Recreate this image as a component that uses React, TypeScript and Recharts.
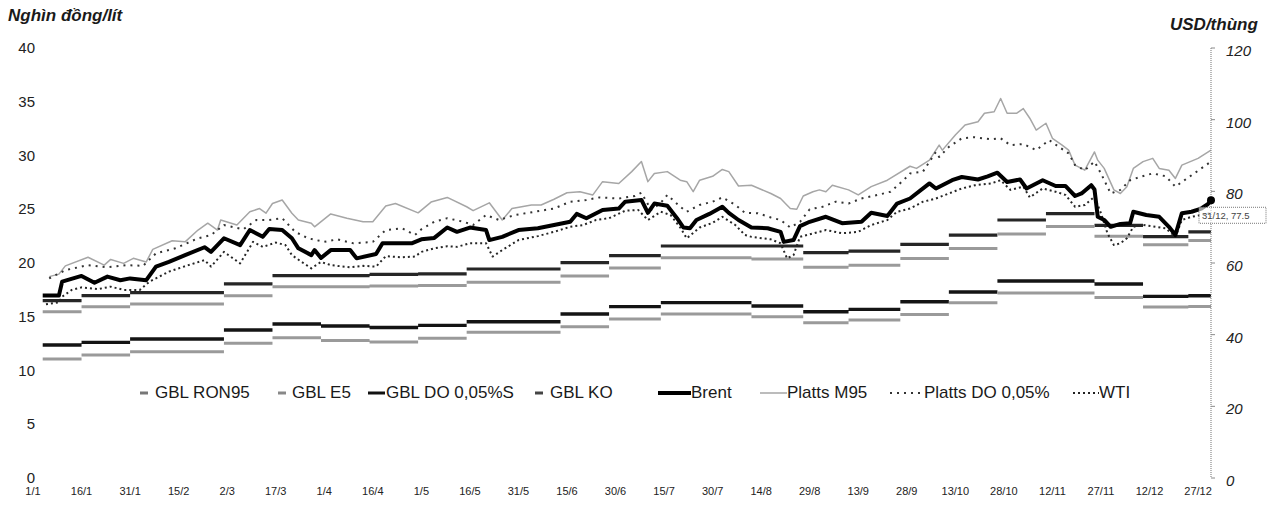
import React from 'react';
import { LineChart, Line, XAxis, YAxis, Legend, ReferenceDot } from 'recharts';

const FONT = '"Liberation Sans", Arial, sans-serif';

// X axis: day of year (0 = 1/1)
const tickDays = [0, 15, 30, 45, 60, 75, 90, 105, 120, 135, 150, 165, 180, 195, 210, 225, 240, 255, 270, 285, 300, 315, 330, 345, 360];
const dateLabels = ['1/1', '16/1', '31/1', '15/2', '2/3', '17/3', '1/4', '16/4', '1/5', '16/5', '31/5', '15/6', '30/6', '15/7', '30/7', '14/8', '29/8', '13/9', '28/9', '13/10', '28/10', '12/11', '27/11', '12/12', '27/12'];
const leftTicks = [0, 5, 10, 15, 20, 25, 30, 35, 40];
const rightTicks = [0, 20, 40, 60, 80, 100, 120];

// Retail price adjustment days (start of each price period) and last day
const stepDays = [3, 15, 30, 59, 74, 89, 104, 119, 134, 163, 178, 194, 222, 238, 252, 268, 283, 298, 313, 328, 343, 357, 364];
// Retail prices, thousand VND / litre (one value per period)
const gblRon95 = [16.5, 16.96, 17.24, 18.05, 18.82, 18.82, 18.95, 18.98, 19.44, 20.03, 20.68, 21.58, 21.58, 20.96, 21.1, 21.74, 22.6, 24.0, 24.6, 23.5, 22.45, 22.9];
const gblE5 = [15.47, 15.94, 16.19, 16.96, 17.8, 17.8, 17.85, 17.9, 18.2, 18.79, 19.53, 20.5, 20.38, 19.6, 19.8, 20.43, 21.36, 22.7, 23.4, 22.5, 21.7, 22.1];
const gblDo = [12.37, 12.62, 12.93, 13.77, 14.33, 14.14, 14.0, 14.2, 14.54, 15.26, 15.94, 16.31, 16.0, 15.47, 15.69, 16.4, 17.3, 18.33, 18.33, 18.05, 16.9, 16.95];
const gblKo = [11.07, 11.44, 11.75, 12.53, 13.05, 12.8, 12.65, 13.0, 13.55, 14.08, 14.79, 15.26, 15.0, 14.45, 14.7, 15.2, 16.3, 17.2, 17.2, 16.8, 15.9, 15.95];

// World prices, USD / barrel : [day, value]
const brent: [number, number][] = [
  [3, 50.9], [8, 50.9], [9, 54.8], [15, 56.4], [19, 54.5], [23, 56.2], [27, 55.2], [30, 55.7], [35, 55.2], [38, 59.0],
  [42, 60.3], [47, 62.2], [53, 64.4], [55, 63.1], [59, 66.9], [64, 65.0], [67, 69.2], [71, 67.3], [73, 69.5], [77, 69.2],
  [80, 66.9], [82, 64.1], [86, 62.2], [87, 63.6], [89, 61.4], [92, 63.6], [98, 63.6], [100, 61.3], [106, 62.5], [108, 65.5],
  [113, 65.5], [117, 65.5], [120, 66.6], [124, 67.0], [128, 69.9], [131, 68.7], [135, 69.9], [140, 69.2], [141, 66.4], [145, 67.3],
  [150, 69.2], [156, 69.7], [161, 70.6], [166, 71.5], [168, 73.7], [171, 72.5], [176, 74.8], [181, 75.2], [183, 77.1], [188, 77.6],
  [190, 74.0], [192, 76.6], [196, 76.0], [199, 72.5], [201, 69.9], [203, 69.7], [205, 72.0], [209, 73.7], [213, 75.7], [215, 74.0],
  [218, 72.0], [222, 69.9], [227, 69.7], [231, 68.7], [232, 65.9], [235, 66.4], [237, 70.3], [240, 71.5], [245, 72.9], [250, 71.1],
  [256, 71.5], [259, 74.0], [264, 73.1], [267, 76.6], [271, 78.0], [277, 82.2], [279, 80.8], [284, 83.1], [287, 84.0], [292, 83.3],
  [295, 84.2], [298, 85.2], [301, 82.6], [305, 83.3], [307, 80.8], [312, 83.1], [316, 81.5], [319, 81.5], [322, 78.7], [324, 79.4],
  [327, 81.7], [328, 80.5], [329, 72.9], [331, 72.0], [333, 70.1], [336, 70.9], [339, 71.1], [340, 74.3], [344, 73.4], [348, 72.9],
  [351, 70.1], [353, 67.8], [355, 73.9], [358, 74.3], [361, 75.2], [363, 76.4], [364, 77.5],
];
const plattsM95: [number, number][] = [
  [5, 56.2], [8, 56.9], [10, 59.2], [17, 61.6], [22, 59.4], [24, 61.0], [28, 59.9], [31, 61.3], [35, 60.3], [37, 63.8],
  [43, 66.2], [47, 65.9], [51, 69.2], [54, 71.1], [57, 69.2], [58, 72.0], [63, 70.6], [67, 74.3], [70, 75.2], [72, 73.9],
  [74, 76.6], [77, 77.6], [80, 73.9], [82, 72.0], [86, 71.1], [87, 70.1], [92, 73.7], [97, 72.5], [102, 71.5], [105, 71.5],
  [109, 75.9], [112, 76.6], [119, 74.0], [123, 77.0], [128, 78.3], [134, 75.7], [136, 74.6], [141, 76.8], [145, 72.0], [148, 75.2],
  [154, 76.2], [157, 76.2], [161, 77.8], [165, 79.6], [169, 79.9], [173, 79.0], [176, 82.7], [181, 82.2], [185, 85.5], [188, 88.3],
  [190, 82.7], [192, 85.0], [196, 85.5], [200, 83.1], [202, 82.7], [204, 79.9], [206, 83.1], [210, 84.2], [213, 86.1], [215, 85.5],
  [218, 81.5], [222, 81.7], [228, 79.4], [231, 78.0], [234, 75.2], [236, 75.0], [238, 78.7], [241, 79.9], [243, 80.4], [245, 79.9],
  [247, 81.7], [252, 80.4], [255, 79.0], [259, 81.3], [264, 83.1], [271, 87.0], [273, 86.4], [277, 88.7], [280, 92.9], [281, 91.5],
  [285, 95.7], [288, 98.5], [292, 99.4], [294, 101.8], [297, 102.2], [299, 105.9], [301, 101.8], [304, 101.8], [306, 103.1], [308, 100.4],
  [310, 97.1], [313, 99.0], [315, 94.8], [318, 92.9], [320, 91.5], [322, 87.3], [325, 85.9], [328, 91.0], [329, 88.7], [331, 86.4],
  [334, 80.4], [336, 79.4], [338, 81.3], [340, 86.4], [343, 88.3], [346, 89.2], [348, 86.4], [351, 85.9], [353, 83.6], [355, 87.3],
  [360, 89.2], [364, 91.5],
];
const plattsDo: [number, number][] = [
  [5, 55.7], [10, 58.0], [17, 59.4], [23, 58.8], [29, 59.4], [34, 59.2], [38, 62.7], [44, 64.1], [51, 66.9], [55, 67.8],
  [59, 70.6], [65, 69.4], [69, 72.0], [73, 72.0], [77, 72.5], [81, 68.7], [85, 66.9], [90, 65.9], [94, 66.6], [99, 65.5],
  [105, 65.9], [109, 69.2], [114, 69.7], [118, 67.8], [120, 69.4], [124, 71.5], [128, 72.5], [133, 71.5], [136, 70.6], [140, 73.4],
  [144, 72.0], [149, 73.4], [155, 74.3], [161, 75.2], [166, 77.1], [171, 77.6], [175, 78.3], [181, 78.0], [186, 78.7], [188, 79.6],
  [191, 74.8], [194, 76.8], [196, 79.0], [200, 75.7], [202, 74.3], [206, 76.2], [210, 77.1], [213, 78.3], [217, 76.2], [220, 74.0],
  [224, 73.9], [228, 72.7], [231, 72.0], [234, 69.9], [237, 71.5], [240, 75.0], [244, 75.7], [248, 77.1], [252, 76.6], [256, 78.0],
  [261, 79.0], [265, 79.9], [269, 83.1], [271, 85.0], [275, 85.5], [279, 91.0], [280, 89.6], [283, 92.4], [287, 94.8], [291, 95.1],
  [296, 94.5], [299, 94.8], [302, 92.9], [306, 93.2], [310, 91.5], [314, 94.3], [317, 92.4], [320, 90.6], [322, 87.3], [325, 85.9],
  [328, 88.3], [330, 85.0], [333, 79.4], [336, 80.4], [339, 83.1], [342, 84.0], [346, 85.0], [350, 84.2], [353, 81.3], [355, 82.6],
  [358, 84.5], [361, 86.4], [364, 88.3],
];
const wti: [number, number][] = [
  [4, 48.5], [8, 49.0], [9, 50.6], [12, 52.5], [15, 53.2], [20, 52.7], [24, 53.4], [28, 52.5], [33, 52.5], [36, 54.8],
  [42, 57.6], [48, 59.4], [53, 60.8], [55, 59.0], [59, 63.1], [64, 59.9], [68, 65.9], [71, 64.5], [75, 65.7], [78, 65.0],
  [80, 62.2], [83, 60.3], [86, 58.5], [89, 60.3], [92, 59.4], [98, 58.8], [102, 59.2], [106, 59.0], [109, 61.9], [114, 61.6],
  [118, 61.8], [120, 63.1], [124, 64.1], [128, 64.7], [131, 64.5], [135, 65.5], [140, 65.5], [142, 61.8], [145, 63.6], [150, 66.4],
  [156, 67.5], [161, 68.7], [166, 70.1], [170, 70.6], [174, 72.0], [178, 72.5], [183, 74.6], [187, 74.8], [190, 72.0], [194, 74.3],
  [197, 73.4], [200, 69.9], [202, 66.9], [206, 69.9], [210, 71.2], [213, 72.9], [217, 70.6], [220, 67.8], [222, 67.3], [228, 66.6],
  [231, 65.5], [233, 61.3], [235, 62.2], [237, 67.3], [240, 68.0], [245, 69.2], [250, 68.3], [255, 68.7], [259, 70.6], [264, 72.0],
  [267, 74.3], [271, 75.2], [275, 77.1], [279, 78.0], [283, 79.4], [287, 80.8], [291, 81.7], [296, 82.2], [299, 83.1], [302, 80.4],
  [306, 81.3], [308, 78.3], [312, 80.8], [316, 79.9], [319, 79.0], [322, 75.7], [325, 76.2], [328, 78.5], [330, 73.9], [332, 68.3],
  [334, 65.0], [336, 65.5], [338, 66.9], [340, 70.1], [343, 70.6], [347, 70.1], [350, 69.7], [353, 67.3], [355, 72.0], [358, 72.9],
  [361, 73.4], [364, 73.9],
];
const lastBrent = { day: 364, value: 77.5, label: '31/12, 77.5' };

// Build piecewise-constant segments (no vertical connectors) from period values
function buildSteps(vals: number[]) {
  const rows: { day: number; v: number | null }[] = [];
  vals.forEach((v, i) => {
    rows.push({ day: stepDays[i], v });
    rows.push({ day: stepDays[i + 1], v });
    rows.push({ day: stepDays[i + 1], v: null });
  });
  return rows;
}
const toRows = (pairs: [number, number][]) => pairs.map(([day, v]) => ({ day, v }));

const stepSeries = [
  { name: 'GBL RON95', data: buildSteps(gblRon95), color: '#262626', width: 3.2 },
  { name: 'GBL E5', data: buildSteps(gblE5), color: '#9a9a9a', width: 3 },
  { name: 'GBL DO 0,05%S', data: buildSteps(gblDo), color: '#141414', width: 3.4 },
  { name: 'GBL KO', data: buildSteps(gblKo), color: '#9a9a9a', width: 3 },
];
const worldSeries = [
  { name: 'Platts M95', data: toRows(plattsM95), color: '#a6a6a6', width: 1.5, dash: undefined as string | undefined },
  { name: 'Platts DO 0,05%', data: toRows(plattsDo), color: '#333333', width: 2, dash: '2 5' },
  { name: 'WTI', data: toRows(wti), color: '#262626', width: 2, dash: '2 3' },
  { name: 'Brent', data: toRows(brent), color: '#000000', width: 4, dash: undefined as string | undefined },
];

const legendItems = [
  { name: 'GBL RON95', color: '#777', w: 8, h: 3, dash: undefined as string | undefined, gap: 7, x: 140 },
  { name: 'GBL E5', color: '#888', w: 8, h: 3, dash: undefined, gap: 6, x: 278 },
  { name: 'GBL DO 0,05%S', color: '#111', w: 17, h: 3, dash: undefined, gap: 1, x: 368 },
  { name: 'GBL KO', color: '#444', w: 8, h: 3, dash: undefined, gap: 7, x: 535 },
  { name: 'Brent', color: '#000', w: 33, h: 4, dash: undefined, gap: 0, x: 658 },
  { name: 'Platts M95', color: '#a6a6a6', w: 27, h: 1.5, dash: undefined, gap: 0, x: 760 },
  { name: 'Platts DO 0,05%', color: '#333', w: 32, h: 2, dash: '2 5', gap: 2, x: 890 },
  { name: 'WTI', color: '#222', w: 26, h: 2, dash: '2 3', gap: 0, x: 1073 },
];

const LeftTick = ({ x, y, payload }: any) => (
  <text x={x + 2} y={y} dy={5} textAnchor="end" fontSize={15} fill="#222" fontFamily={FONT}>
    {payload.value}
  </text>
);
const RightTick = ({ x, y, payload }: any) => (
  <text x={x + 9} y={y} dy={8} textAnchor="start" fontSize={15} fontStyle="italic" fill="#222" fontFamily={FONT}>
    {payload.value}
  </text>
);
const BottomTick = ({ x, y, payload }: any) => {
  const idx = tickDays.indexOf(payload.value);
  return (
    <text x={x} y={y + 9} textAnchor="middle" fontSize={11} fill="#222" fontFamily={FONT}>
      {idx >= 0 ? dateLabels[idx] : ''}
    </text>
  );
};

const LegendContent = () => (
  <div style={{ position: 'relative', width: 1276, height: 22, fontFamily: FONT, fontSize: 17, color: '#1a1a1a', whiteSpace: 'nowrap' }}>
    {legendItems.map((it) => (
      <div key={it.name} style={{ position: 'absolute', left: it.x, top: 0, height: 22, display: 'flex', alignItems: 'center' }}>
        <svg width={it.w} height={8} style={{ marginRight: it.gap }}>
          <line x1={0} x2={it.w} y1={4} y2={4} stroke={it.color} strokeWidth={it.h} strokeDasharray={it.dash} />
        </svg>
        <span>{it.name}</span>
      </div>
    ))}
  </div>
);

const EndMarker = (props: any) => {
  const { cx, cy } = props;
  return (
    <g>
      <circle cx={cx} cy={cy} r={4} fill="#000" />
      <rect x={cx - 12} y={cy + 7} width={67} height={16} fill="#fff" fillOpacity={0.6} stroke="#777" strokeWidth={1} strokeDasharray="1 1" />
      <text x={cx - 9} y={cy + 19} fontSize={9.5} fill="#444" fontFamily={FONT}>
        {lastBrent.label}
      </text>
    </g>
  );
};

export default function App() {
  return (
    <div style={{ position: 'absolute', left: 0, top: 0, width: 1276, height: 506, background: '#fff', fontFamily: FONT }}>
      <LineChart width={1276} height={506} margin={{ top: 48, right: 0, bottom: 0, left: 0 }}>
        <XAxis
          xAxisId={0}
          dataKey="day"
          type="number"
          domain={[0, 364]}
          allowDataOverflow
          ticks={tickDays}
          interval={0}
          axisLine={false}
          tickLine={false}
          height={28}
          tick={<BottomTick />}
        />
        <YAxis
          yAxisId="left"
          orientation="left"
          domain={[0, 40]}
          ticks={leftTicks}
          interval={0}
          width={33}
          axisLine={false}
          tickLine={false}
          tickSize={0}
          tickMargin={0}
          tick={<LeftTick />}
        />
        <YAxis
          yAxisId="right"
          orientation="right"
          domain={[0, 120]}
          ticks={rightTicks}
          interval={0}
          width={65}
          axisLine={{ stroke: '#8a8a8a', strokeDasharray: '1 1', strokeWidth: 1.2 }}
          tickLine={{ stroke: '#8a8a8a' }}
          tickSize={4}
          tickMargin={2}
          tick={<RightTick />}
        />
        <Legend
          verticalAlign="middle"
          align="center"
          layout="horizontal"
          wrapperStyle={{ position: 'absolute', top: 382, left: 0, width: 1276, height: 22 }}
          content={<LegendContent />}
        />
        {stepSeries.map((s) => (
          <Line
            key={s.name}
            name={s.name}
            yAxisId="left"
            data={s.data}
            dataKey="v"
            type="linear"
            stroke={s.color}
            strokeWidth={s.width}
            dot={false}
            activeDot={false}
            connectNulls={false}
            isAnimationActive={false}
          />
        ))}
        {worldSeries.map((s) => (
          <Line
            key={s.name}
            name={s.name}
            yAxisId="right"
            data={s.data}
            dataKey="v"
            type="linear"
            stroke={s.color}
            strokeWidth={s.width}
            strokeDasharray={s.dash}
            strokeLinejoin="round"
            dot={false}
            activeDot={false}
            isAnimationActive={false}
          />
        ))}
        <ReferenceDot
          yAxisId="right"
          x={lastBrent.day}
          y={lastBrent.value}
          r={4}
          ifOverflow="visible"
          shape={<EndMarker />}
        />
      </LineChart>
      <div style={{ position: 'absolute', left: 8, top: 6, fontSize: 17, fontWeight: 'bold', fontStyle: 'italic', color: '#1a1a1a', whiteSpace: 'nowrap' }}>
        Nghìn đồng/lít
      </div>
      <div style={{ position: 'absolute', left: 1170, top: 15, fontSize: 17, fontWeight: 'bold', fontStyle: 'italic', color: '#1a1a1a', whiteSpace: 'nowrap' }}>
        USD/thùng
      </div>
    </div>
  );
}
